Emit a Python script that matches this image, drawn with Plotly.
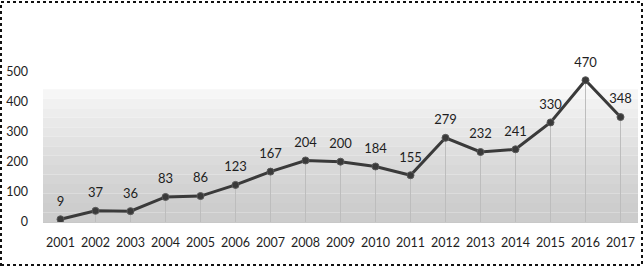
import plotly.graph_objects as go

years = ["2001", "2002", "2003", "2004", "2005", "2006", "2007", "2008", "2009",
         "2010", "2011", "2012", "2013", "2014", "2015", "2016", "2017"]
counts = [9, 37, 36, 83, 86, 123, 167, 204, 200, 184, 155, 279, 232, 241, 330, 470, 348]
y_ticks = [0, 100, 200, 300, 400, 500]

font_family = "Lato, Open Sans, sans-serif"
line_color = "#3a3a3a"

fig = go.Figure()

fig.add_trace(go.Scatter(
    x=years, y=counts, mode="lines+markers",
    line=dict(color=line_color, width=3),
    marker=dict(size=7, color=line_color, line=dict(color="#5a5a5a", width=1)),
    error_y=dict(type="data", symmetric=False, array=[0] * len(counts),
                 arrayminus=counts, width=0, color="#bdbdbd", thickness=1),
    hoverinfo="x+y", showlegend=False,
))

# data labels (invisible large marker pushes the text up)
fig.add_trace(go.Scatter(
    x=years, y=counts, mode="markers+text", text=[str(v) for v in counts],
    textposition="top center",
    textfont=dict(family=font_family, size=13, color="#1e1e1e"),
    marker=dict(size=15, opacity=0),
    hoverinfo="skip", showlegend=False, cliponaxis=False,
))

# dotted-gradient background approximation (lighter at top, denser at bottom)
shapes = []
n_bands = 14
top_val = 440
for i in range(n_bands):
    y0 = top_val * i / n_bands
    y1 = top_val * (i + 1) / n_bands
    g = int(204 + (246 - 204) * (i / (n_bands - 1)) ** 1.3)
    shapes.append(dict(type="rect", xref="paper", yref="y", x0=0, x1=1, y0=y0, y1=y1,
                       fillcolor=f"rgb({g},{g},{g})", line=dict(width=0), layer="below"))
# dotted frame around the whole picture
shapes.append(dict(type="rect", xref="paper", yref="paper", x0=-42 / 595, x1=1 + 4 / 595,
                   y0=-43 / 181, y1=1 + 39 / 181,
                   line=dict(color="#111111", width=2, dash="dot")))

fig.update_layout(
    width=644, height=267,
    margin=dict(l=43, r=6, t=41, b=45),
    paper_bgcolor="white", plot_bgcolor="white",
    font=dict(family=font_family, size=12, color="#1e1e1e"),
    shapes=shapes,
    xaxis=dict(type="category", range=[-0.5, 16.5], showgrid=False, zeroline=False,
               showline=True, linecolor="#c8c8c8", linewidth=1, ticks="",
               ticklabelstandoff=9, tickfont=dict(size=12.5)),
    yaxis=dict(range=[0, 600], tickvals=y_ticks, showgrid=False, zeroline=False,
               showline=False, ticks="", ticklabelstandoff=14, tickfont=dict(size=12.5)),
)

fig.write_html("out.html", config={"displayModeBar": False},
               post_script="document.body.style.margin='0';")
